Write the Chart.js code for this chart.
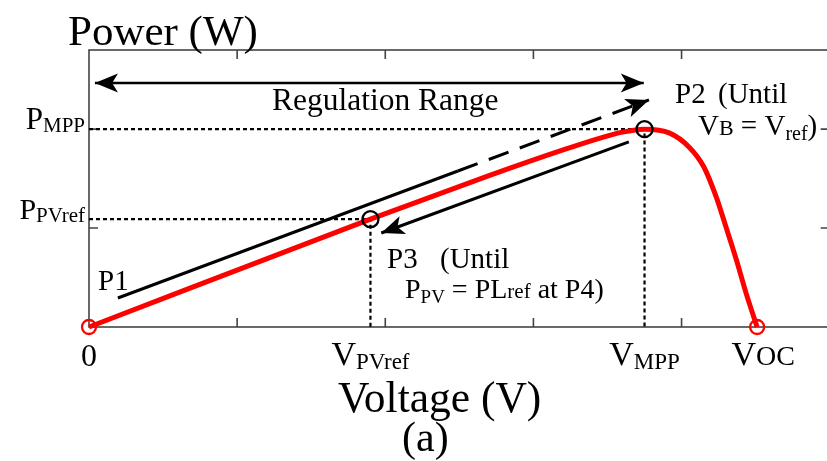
<!DOCTYPE html>
<html>
<head>
<meta charset="utf-8">
<script src="https://cdn.jsdelivr.net/npm/chart.js@4.4.1/dist/chart.umd.min.js"></script>
<style>
  html, body { margin: 0; padding: 0; background: #fff; overflow: hidden; }
  #wrap { width: 840px; height: 461px; }
</style>
</head>
<body>
<div id="wrap"><canvas id="pvChart"></canvas></div>
<script>
// P-V curve of the source (normalised voltage / power units)
const curveV = [0, 1.9, 2.7, 3.2, 3.45, 3.6, 3.75, 3.92, 4.05, 4.15, 4.235, 4.3, 4.37, 4.436, 4.51];
const curveP = [0, 1.09, 1.53, 1.79, 1.91, 1.97, 2.0, 1.96, 1.82, 1.62, 1.31, 1.01, 0.68, 0.34, 0];

// operating points
const vMpp = 3.75, pMpp = 2.0;
const vPvRef = 1.9, pPvRef = 1.09;
const vOc = 4.51;

// inward tick marks on the frame
const xTicks = [1, 2, 3, 4];
const yTicks = [1, 2];

// trajectories: P1 -> P2 (solid then dashed), P2 -> P3, regulation range
const p1SolidV = [0.195, 2.49], p1SolidP = [0.293, 1.577];
const p1DashV = [2.49, 3.78], p1DashP = [1.577, 2.295];
const p3V = [3.644, 1.973], p3P = [1.871, 0.95];
const rangeV = [0.04, 3.745], rangeP = [2.467, 2.467];

const SERIF = '"Liberation Serif", "Times New Roman", serif';
const pts = (xs, ys) => xs.map((x, i) => ({ x: x, y: ys[i] }));

function lineSet(data, color, width, dash) {
  return {
    data: data,
    borderColor: color,
    borderWidth: width,
    borderDash: dash || [],
    borderCapStyle: 'butt',
    pointRadius: 0,
    fill: false,
    clip: false
  };
}

function markerSet(data, color, radius) {
  return {
    data: data,
    showLine: false,
    clip: false,
    pointStyle: 'circle',
    pointRadius: radius,
    pointBorderWidth: 2.3,
    pointBorderColor: color,
    pointBackgroundColor: 'rgba(0,0,0,0)'
  };
}

// draw text made of runs: [text, size, dy]
function richText(ctx, x, y, parts, align) {
  let total = 0;
  parts.forEach(p => {
    ctx.font = p[1] + 'px ' + SERIF;
    total += ctx.measureText(p[0]).width;
  });
  let cx = x;
  if (align === 'center') cx = x - total / 2;
  if (align === 'right') cx = x - total;
  ctx.textAlign = 'left';
  ctx.textBaseline = 'alphabetic';
  parts.forEach(p => {
    ctx.font = p[1] + 'px ' + SERIF;
    ctx.fillText(p[0], cx, y + (p[2] || 0));
    cx += ctx.measureText(p[0]).width;
  });
}

function arrowHead(ctx, tip, from, len, half) {
  const a = Math.atan2(tip.y - from.y, tip.x - from.x);
  ctx.save();
  ctx.translate(tip.x, tip.y);
  ctx.rotate(a);
  ctx.beginPath();
  ctx.moveTo(0, 0);
  ctx.lineTo(-len, -half);
  ctx.lineTo(-len * 0.75, 0);
  ctx.lineTo(-len, half);
  ctx.closePath();
  ctx.fillStyle = '#000';
  ctx.fill();
  ctx.restore();
}

// frame with inward ticks, drawn under the curves
const framePlugin = {
  id: 'frame',
  beforeDatasetsDraw(chart) {
    const { ctx, chartArea: a, scales: { x, y } } = chart;
    ctx.save();
    ctx.strokeStyle = '#444';
    ctx.lineWidth = 1.6;
    ctx.strokeRect(a.left, a.top, a.right - a.left, a.bottom - a.top);
    ctx.beginPath();
    xTicks.forEach(v => {
      const px = x.getPixelForValue(v);
      ctx.moveTo(px, a.bottom); ctx.lineTo(px, a.bottom - 9);
      ctx.moveTo(px, a.top); ctx.lineTo(px, a.top + 9);
    });
    yTicks.forEach(v => {
      const py = y.getPixelForValue(v);
      ctx.moveTo(a.left, py); ctx.lineTo(a.left + 9, py);
      ctx.moveTo(a.right, py); ctx.lineTo(a.right - 9, py);
    });
    ctx.stroke();
    ctx.restore();
  }
};

// arrow heads and all text labels
const labelPlugin = {
  id: 'labels',
  afterDraw(chart) {
    const { ctx, scales: { x, y } } = chart;
    const px = (v, p) => ({ x: x.getPixelForValue(v), y: y.getPixelForValue(p) });
    ctx.save();

    arrowHead(ctx, px(p1DashV[1], p1DashP[1]), px(p1DashV[0], p1DashP[0]), 23, 9.5);
    arrowHead(ctx, px(p3V[1], p3P[1]), px(p3V[0], p3P[0]), 23, 9.5);
    arrowHead(ctx, px(rangeV[1], rangeP[1]), px(rangeV[0], rangeP[0]), 23, 9.5);
    arrowHead(ctx, px(rangeV[0], rangeP[0]), px(rangeV[1], rangeP[1]), 23, 9.5);

    ctx.fillStyle = '#000';

    // axis titles
    richText(ctx, 68, 45, [['Power (W)', 43]]);
    richText(ctx, 338, 412, [['Voltage (V)', 43.5]]);
    richText(ctx, 402, 451, [['(a)', 42]]);

    // value labels on the axes
    const left = x.getPixelForValue(0) - 4;
    richText(ctx, left, y.getPixelForValue(pMpp), [['P', 31], ['MPP', 21, 3]], 'right');
    richText(ctx, left, y.getPixelForValue(pPvRef), [['P', 30], ['PVref', 21, 3]], 'right');

    const base = y.getPixelForValue(0) + 38;
    richText(ctx, x.getPixelForValue(0), base + 1, [['0', 32]], 'center');
    richText(ctx, x.getPixelForValue(vPvRef), base, [['V', 34], ['PVref', 23, 4]], 'center');
    richText(ctx, x.getPixelForValue(vMpp), base, [['V', 34], ['MPP', 23, 4]], 'center');
    richText(ctx, x.getPixelForValue(vOc) + 6, base, [['V', 34], ['OC', 28, 0]], 'center');

    // annotations
    richText(ctx, 272, 110, [['Regulation Range', 31.5]]);
    richText(ctx, 675, 103, [['P2', 29]]);
    richText(ctx, 718, 103, [['(Until', 29]]);
    richText(ctx, 698, 135, [['V', 29], ['B', 22], [' = V', 29], ['ref', 20, 5], [')', 29]]);
    richText(ctx, 98, 290, [['P1', 29]]);
    richText(ctx, 387, 268, [['P3', 29]]);
    richText(ctx, 440, 268, [['(Until', 29]]);
    richText(ctx, 405, 298, [['P', 28], ['PV', 19, 5], [' = PL', 28], ['ref', 21], [' at P4)', 28]]);

    ctx.restore();
  }
};

new Chart(document.getElementById('pvChart'), {
  type: 'line',
  data: {
    datasets: [
      markerSet([{ x: vMpp, y: pMpp }, { x: vPvRef, y: pPvRef }], '#000', 8),
      markerSet([{ x: 0, y: 0 }, { x: vOc, y: 0 }], '#ff0000', 7),
      Object.assign(lineSet(pts(curveV, curveP), '#ff0000', 5), { cubicInterpolationMode: 'monotone' }),
      lineSet(pts(p1SolidV, p1SolidP), '#000', 3),
      lineSet(pts(p1DashV, p1DashP), '#000', 3, [21, 12]),
      lineSet(pts(p3V, p3P), '#000', 3),
      lineSet(pts(rangeV, rangeP), '#000', 2.5),
      lineSet(pts([0, vMpp, vMpp], [pMpp, pMpp, 0]), '#000', 2.2, [4, 3]),
      lineSet(pts([0, vPvRef, vPvRef], [pPvRef, pPvRef, 0]), '#000', 2.2, [4, 3])
    ]
  },
  options: {
    responsive: true,
    maintainAspectRatio: false,
    animation: false,
    events: [],
    layout: { padding: { left: 89, top: 50, right: 6, bottom: 134 } },
    plugins: { legend: { display: false }, tooltip: { enabled: false } },
    scales: {
      x: { type: 'linear', min: 0, max: 5, display: false },
      y: { type: 'linear', min: 0, max: 2.8, display: false }
    }
  },
  plugins: [framePlugin, labelPlugin]
});
</script>
</body>
</html>
